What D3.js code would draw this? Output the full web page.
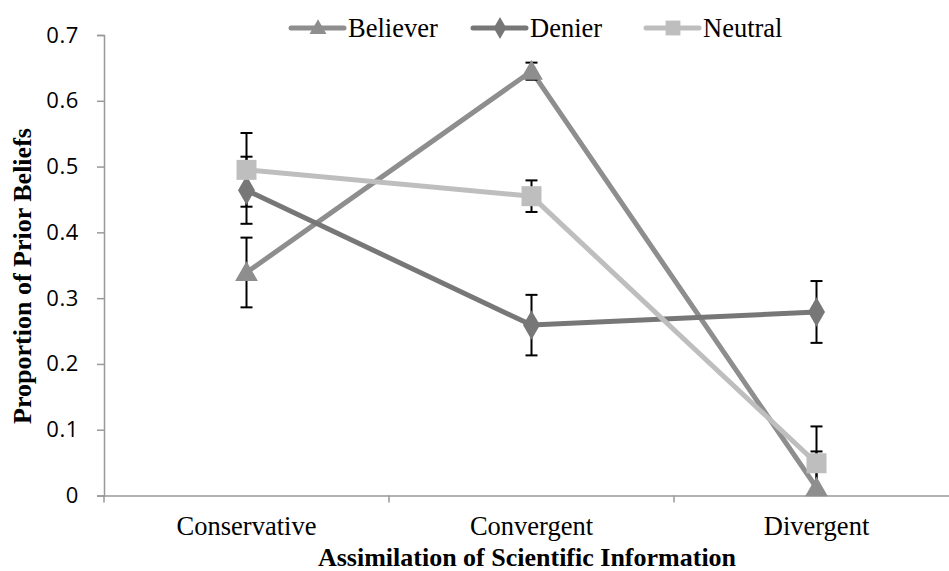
<!DOCTYPE html>
<html><head><meta charset="utf-8">
<script src="https://cdn.jsdelivr.net/npm/d3@7"></script>
<style>body{margin:0;background:#fff}svg{display:block}</style>
</head><body>
<svg id="c" width="949" height="571"></svg>
<script>
const categories = ["Conservative", "Convergent", "Divergent"];
const seriesNames = ["Believer", "Denier", "Neutral"];
const believer = [0.339, 0.645, 0.012];
const believerErr = [0.053, 0.013, 0.055];
const denier = [0.464, 0.259, 0.279];
const denierErr = [0.051, 0.046, 0.047];
const neutral = [0.495, 0.455, 0.049];
const neutralErr = [0.056, 0.024, 0.056];
const yTicks = [0, 0.1, 0.2, 0.3, 0.4, 0.5, 0.6, 0.7];

(function () {
const colors = {Believer: "#8e8e8e", Denier: "#777777", Neutral: "#bebebe"};
const shapes = {Believer: d3.symbolTriangle, Denier: d3.symbolDiamond, Neutral: d3.symbolSquare};
const sizes = {Believer: 225, Denier: 250, Neutral: 400};

const svg = d3.select("#c");
const left = 104, plotTop = 35, plotBottom = 495.5;
const x = d3.scaleBand().domain(categories).range([left, left + 855]);
const y = d3.scaleLinear().domain([0, 0.7]).range([plotBottom, plotTop]);
const serif = "'Liberation Serif','Times New Roman',serif";
const sans = "'Open Sans','Liberation Sans',sans-serif";

// Y axis
const ya = svg.append("g").attr("transform", `translate(${left},0)`)
  .call(d3.axisLeft(y).tickValues(yTicks).tickFormat(d => d === 0 ? "0" : d3.format(".1f")(d)).tickSize(7).tickPadding(18));
ya.select(".domain").attr("stroke", "#999").attr("stroke-width", 1.5);
ya.selectAll(".tick line").attr("stroke", "#999").attr("stroke-width", 1.5);
ya.selectAll(".tick text").attr("font-family", sans).attr("font-size", 22).attr("letter-spacing", "0.6px").attr("fill", "#000");

// X axis
const xa = svg.append("g").attr("transform", `translate(0,${plotBottom})`)
  .call(d3.axisBottom(x).tickSize(0).tickPadding(20));
xa.select(".domain").attr("stroke", "#999").attr("stroke-width", 1.5);
xa.selectAll(".tick text").attr("font-family", serif).attr("font-size", 26.5).attr("fill", "#000")
  .attr("dy", null).attr("y", 39.5);
const bounds = x.domain().map(c => x(c)).concat([x.range()[1]]);
svg.append("g").selectAll("line").data(bounds).join("line")
  .attr("x1", d => d).attr("x2", d => d).attr("y1", plotBottom).attr("y2", plotBottom + 7)
  .attr("stroke", "#999").attr("stroke-width", 1.5);

// Titles
svg.append("text").attr("x", 527).attr("y", 566).attr("text-anchor", "middle")
  .attr("font-family", serif).attr("font-weight", "bold").attr("font-size", 26).text("Assimilation of Scientific Information");
svg.append("text").attr("transform", "translate(31,276) rotate(-90)").attr("text-anchor", "middle")
  .attr("font-family", serif).attr("font-weight", "bold").attr("font-size", 26).text("Proportion of Prior Beliefs");

const data = [
  {name: "Believer", vals: believer, errs: believerErr},
  {name: "Denier", vals: denier, errs: denierErr},
  {name: "Neutral", vals: neutral, errs: neutralErr}
];
const cx = c => x(c) + x.bandwidth() / 2;
const line = d3.line().x((d, i) => cx(categories[i])).y(d => y(d));

data.forEach(s => {
  svg.append("path").attr("d", line(s.vals)).attr("fill", "none")
    .attr("stroke", colors[s.name]).attr("stroke-width", 5).attr("stroke-linejoin", "round");
});
const clip = v => Math.max(0, v);
data.forEach(s => {
  const g = svg.append("g").attr("stroke", "#000").attr("stroke-width", 2);
  s.vals.forEach((v, i) => {
    const X = cx(categories[i]);
    const hi = v + s.errs[i], lo = v - s.errs[i];
    g.append("line").attr("x1", X).attr("x2", X).attr("y1", y(hi)).attr("y2", y(clip(lo)));
    g.append("line").attr("x1", X - 6).attr("x2", X + 6).attr("y1", y(hi)).attr("y2", y(hi));
    if (lo >= 0) g.append("line").attr("x1", X - 6).attr("x2", X + 6).attr("y1", y(lo)).attr("y2", y(lo));
  });
});
data.forEach(s => {
  svg.append("g").selectAll("path").data(s.vals).join("path")
    .attr("d", d3.symbol().type(shapes[s.name]).size(sizes[s.name]))
    .attr("transform", (d, i) => `translate(${cx(categories[i])},${y(d) + (s.name === "Believer" ? 2 : 0)})`)
    .attr("fill", colors[s.name]);
});

const legendX = [291, 473, 646];
seriesNames.forEach((n, i) => {
  const g = svg.append("g").attr("transform", `translate(${legendX[i]},28)`);
  g.append("line").attr("x1", 0).attr("x2", 53).attr("stroke", colors[n]).attr("stroke-width", 5).attr("stroke-linecap", "round");
  g.append("path").attr("d", d3.symbol().type(shapes[n]).size(sizes[n] * 0.55)).attr("transform", `translate(27,${n === "Believer" ? 1 : 0})`).attr("fill", colors[n]);
  g.append("text").attr("x", 57).attr("y", 9).attr("font-family", serif).attr("font-size", 26.5).text(n);
});
})();
</script>
</body></html>
